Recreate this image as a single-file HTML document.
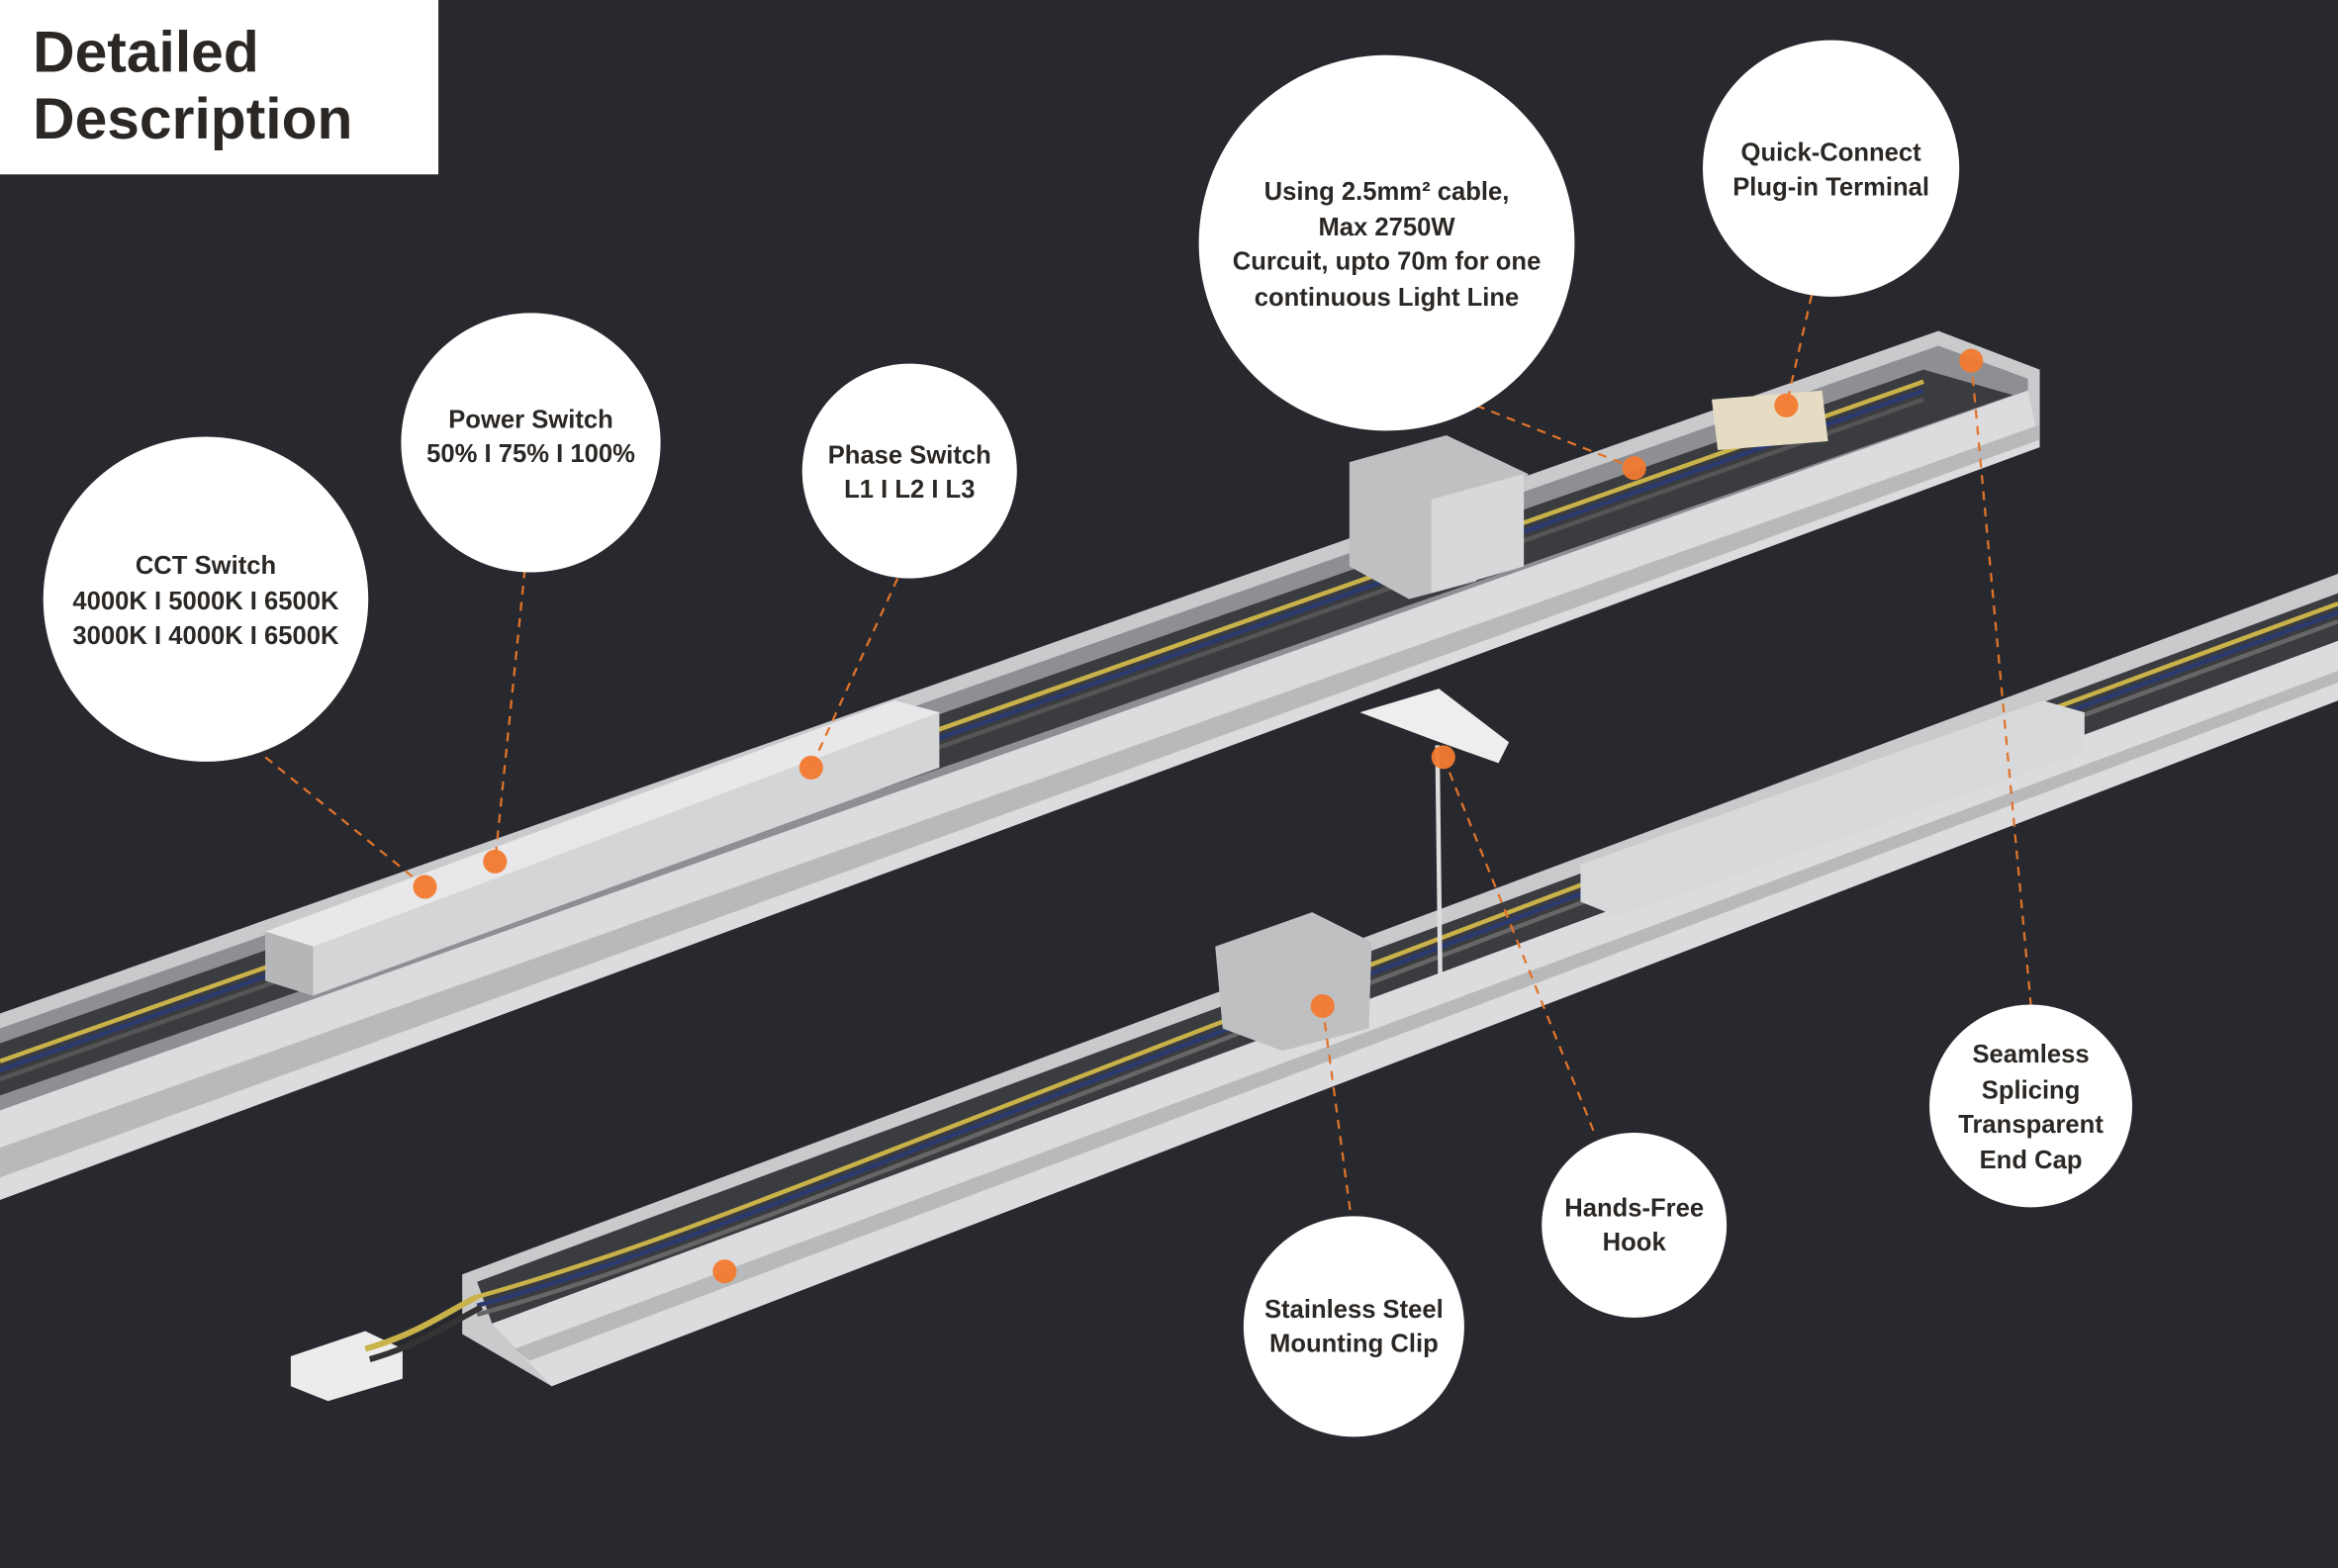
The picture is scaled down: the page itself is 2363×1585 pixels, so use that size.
<!DOCTYPE html>
<html><head><style>
html,body{margin:0;padding:0;background:#27292e;}
svg{display:block}
text{font-family:"Liberation Sans",sans-serif;font-weight:bold;fill:#2b2724;text-anchor:middle}
</style></head><body>
<svg width="2363" height="1585" viewBox="0 0 1568 1052" preserveAspectRatio="none" xmlns="http://www.w3.org/2000/svg">
<rect width="1568" height="1052" fill="#27292e"/>
<!-- upper bar -->
<polygon points="0,680 1300,222 1368,248 1368,300 0,805" fill="#c9cacc"/>
<polygon points="0,690 1300,232 1360,254 1360,262 0,745" fill="#8d8f93"/>
<polygon points="0,700 1290,248 1350,265 0,735" fill="#3a3c40"/>
<g stroke-width="3" fill="none">
<path d="M0,712 L1290,256" stroke="#c9b24a"/>
<path d="M0,718 L1290,262" stroke="#2a3a6e"/>
<path d="M0,724 L1290,268" stroke="#555"/>
</g>
<polygon points="0,745 1360,262 1368,300 0,805" fill="#dcdcde"/>
<polygon points="0,770 1368,285 1368,295 0,790" fill="#b8b9bb"/>
<!-- driver box upper -->
<polygon points="178,625 600,470 630,478 630,515 210,668 178,658" fill="#d4d5d7"/>
<polygon points="178,625 600,470 630,478 210,635" fill="#e8e8ea"/>
<polygon points="178,625 210,635 210,668 178,658" fill="#b5b6b8"/>
<!-- quick connect -->
<polygon points="1148,268 1222,262 1226,296 1152,302" fill="#e6dcc4"/>
<!-- clip upper -->
<polygon points="905,310 970,292 1025,318 990,390 945,402 905,380" fill="#bfc0c2"/>
<polygon points="960,335 1022,318 1022,380 960,398" fill="#d7d8da"/>
<!-- lower bar -->
<polygon points="310,855 1568,385 1568,470 370,930 310,895" fill="#c9cacc"/>
<polygon points="320,860 1568,398 1568,430 330,888" fill="#3a3c40"/>
<g stroke-width="3" fill="none">
<path d="M320,870 C500,820 600,760 1568,405" stroke="#c9b24a"/>
<path d="M320,876 C500,826 600,766 1568,411" stroke="#2a3a6e"/>
<path d="M320,882 C500,832 600,772 1568,417" stroke="#666"/>
</g>
<polygon points="330,888 1568,430 1568,470 370,930" fill="#dcdcde"/>
<polygon points="345,905 1568,450 1568,458 355,913" fill="#b8b9bb"/>
<polygon points="1060,580 1370,470 1398,478 1398,505 1085,615 1060,605" fill="#d8d9db"/>
<polygon points="815,635 880,612 920,632 918,690 860,705 820,690" fill="#bfc0c2"/>
<polygon points="912,478 965,462 1012,498 1005,512 960,496" fill="#eeeeee"/>
<line x1="964" y1="500" x2="966" y2="665" stroke="#ddd" stroke-width="3"/>
<!-- plug -->
<polygon points="195,910 245,893 270,905 270,925 220,940 195,930" fill="#ececec"/>
<path d="M245,905 C280,895 300,880 320,870" stroke="#c9b24a" stroke-width="4" fill="none"/>
<path d="M248,912 C283,902 303,887 323,877" stroke="#333" stroke-width="4" fill="none"/>
<!-- leaders -->
<g stroke="#e0732a" stroke-width="1.5" stroke-dasharray="6,5" fill="none">
<line x1="178" y1="508" x2="285" y2="595"/>
<line x1="352" y1="382" x2="332" y2="578"/>
<line x1="602" y1="388" x2="544" y2="515"/>
<line x1="990" y1="272" x2="1096" y2="314"/>
<line x1="1215" y1="198" x2="1198" y2="272"/>
<line x1="1322" y1="242" x2="1362" y2="674"/>
<line x1="968" y1="508" x2="1070" y2="762"/>
<line x1="887" y1="675" x2="906" y2="816"/>
</g>
<g fill="#f27a30" opacity="0.95">
<circle cx="285" cy="595" r="8"/><circle cx="332" cy="578" r="8"/><circle cx="544" cy="515" r="8"/>
<circle cx="1096" cy="314" r="8"/><circle cx="1198" cy="272" r="8"/><circle cx="1322" cy="242" r="8"/>
<circle cx="968" cy="508" r="8"/><circle cx="887" cy="675" r="8"/><circle cx="486" cy="853" r="8"/>
</g>
<!-- circles -->
<g fill="#fff">
<circle cx="138" cy="402" r="109"/><circle cx="356" cy="297" r="87"/><circle cx="610" cy="316" r="72"/>
<circle cx="930" cy="163" r="126"/><circle cx="1228" cy="113" r="86"/><circle cx="1362" cy="742" r="68"/>
<circle cx="1096" cy="822" r="62"/><circle cx="908" cy="890" r="74"/>
</g>
<g font-size="17">
<text x="138" y="385">CCT Switch</text><text x="138" y="409">4000K I 5000K I 6500K</text><text x="138" y="432">3000K I 4000K I 6500K</text>
<text x="356" y="287">Power Switch</text><text x="356" y="310">50% I 75% I 100%</text>
<text x="610" y="311">Phase Switch</text><text x="610" y="334">L1 I L2 I L3</text>
<text x="930" y="134">Using 2.5mm² cable,</text><text x="930" y="158">Max 2750W</text><text x="930" y="181">Curcuit, upto 70m for one</text><text x="930" y="205">continuous Light Line</text>
<text x="1228" y="108">Quick-Connect</text><text x="1228" y="131">Plug-in Terminal</text>
<text x="1362" y="713">Seamless</text><text x="1362" y="737">Splicing</text><text x="1362" y="760">Transparent</text><text x="1362" y="784">End Cap</text>
<text x="1096" y="816">Hands-Free</text><text x="1096" y="839">Hook</text>
<text x="908" y="884">Stainless Steel</text><text x="908" y="907">Mounting Clip</text>
</g>
<rect x="0" y="0" width="294" height="117" fill="#fff"/>
<text x="22" y="48" font-size="39" style="text-anchor:start">Detailed</text>
<text x="22" y="93" font-size="39" style="text-anchor:start">Description</text>
</svg>
</body></html>
